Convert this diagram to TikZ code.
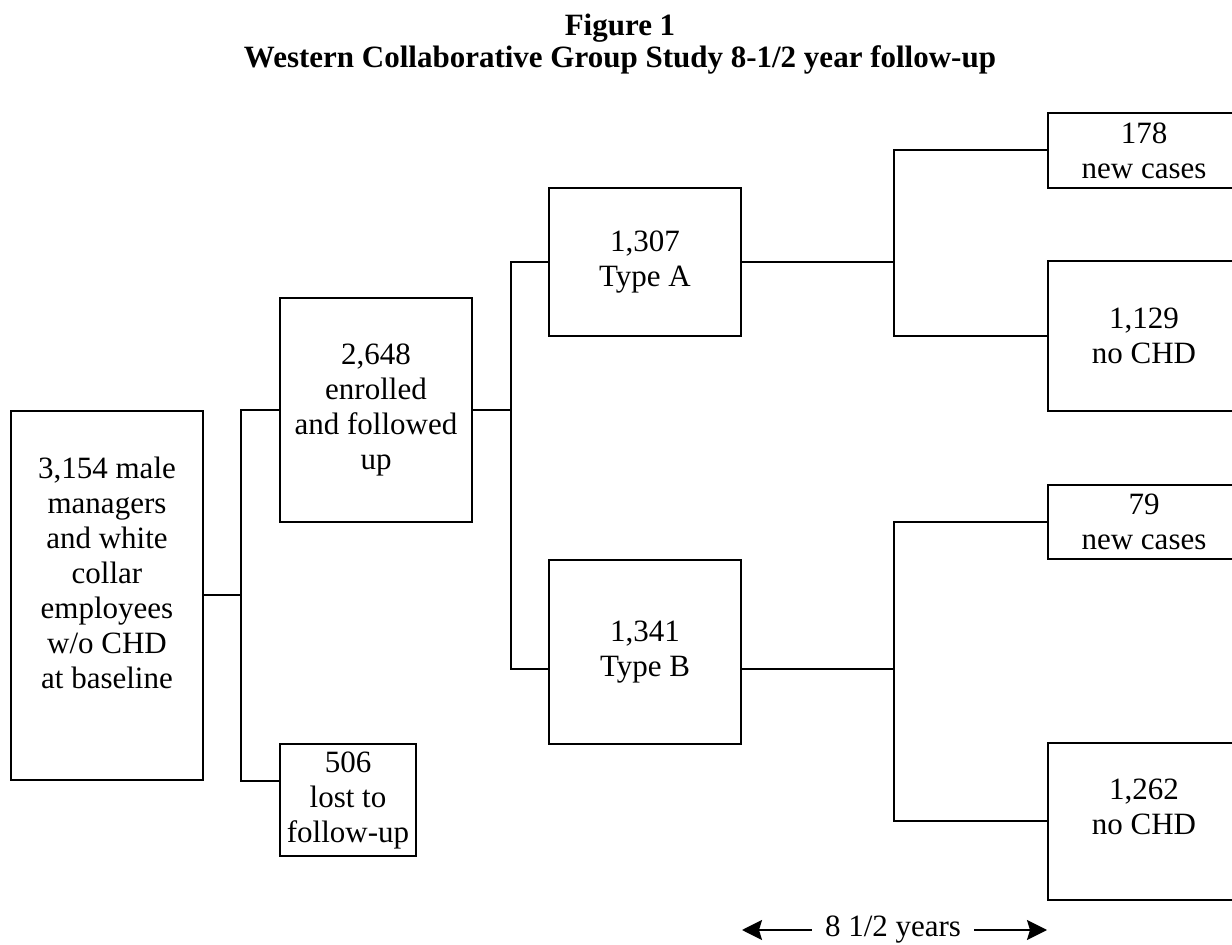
\documentclass[tikz,border=0pt]{standalone}
\usepackage{fontspec}
\setmainfont{Liberation Serif}
\usetikzlibrary{arrows.meta}

\begin{document}
\begin{tikzpicture}[
        x=0.5pt,
        y=-0.5pt,
        line width=1pt,
        font=\fontsize{15.5}{17.5}\selectfont,
        study box/.style={
            draw,rectangle,inner sep=0pt,align=center,minimum width=96pt
        },
        title text/.style={
            align=center,font=\bfseries\fontsize{15.5}{16}\selectfont
        },
        span arrow/.style={-{Stealth[length=10pt,width=10pt,inset=1.5pt]}}
    ]
        \useasboundingbox (0,0) rectangle (1232,945);
        \clip (0,0) rectangle (1232,945);

        % Heading.
        \node[title text] (title) at (620,44)
            {Figure 1\\Western Collaborative Group Study 8-1/2 year follow-up};

        % Baseline cohort and the first split.
        \node[study box,minimum height=184.5pt,
            label={[align=center,yshift=11.25pt]center:{3,154 male\\managers\\and white\\collar\\employees\\w/o CHD\\at baseline}}]
            (cohort) at (107,595.5) {};
        \node[study box,minimum height=112pt] (enrolled) at (376,410)
            {2,648\\enrolled\\and followed\\up};
        \node[study box,minimum width=68pt,minimum height=56pt] (lost)
            at (348,800) {506\\lost to\\follow-up};

        % Behaviour types.
        \node[study box,minimum height=74pt] (typea) at (645,262) {1,307\\Type A};
        \node[study box,minimum height=92pt] (typeb) at (645,652) {1,341\\Type B};

        % Outcomes, cut off by the right margin.
        \node[study box,minimum height=37.5pt] (acases) at (1144,150.5) {178\\new cases};
        \node[study box,minimum height=75pt] (anone) at (1144,336) {1,129\\no CHD};
        \node[study box,minimum height=37pt] (bcases) at (1144,522) {79\\new cases};
        \node[study box,minimum height=78.5pt,
            label={[align=center,yshift=7.25pt]center:{1,262\\no CHD}}]
            (bnone) at (1144,821.5) {};

        % Bracket connectors.
        \draw (cohort.east) -- ++(37,0) coordinate (split);
        \draw (enrolled.west) -| (split) |- ([yshift=9.5pt]lost.west);
        \draw (enrolled.east) -- ++(38,0) coordinate (typesplit);
        \draw (typea.west) -| (typesplit) |- ([yshift=-8.5pt]typeb.west);
        \draw (typea.east) -- ++(152,0) coordinate (asplit);
        \draw (acases.west) -| (asplit) |- (anone.west);
        \draw ([yshift=-8.5pt]typeb.east) -- ++(152,0) coordinate (bsplit);
        \draw (bcases.west) -| (bsplit) |- (bnone.west);

        % Follow-up span.
        \node[inner sep=6pt] (span) at (893,930) {8 1/2 years};
        \draw[span arrow] (span.west) -- (span.west -| typeb.east);
        \draw[span arrow] (span.east) -- (span.east -| bnone.west);
    \end{tikzpicture}
\end{document}
